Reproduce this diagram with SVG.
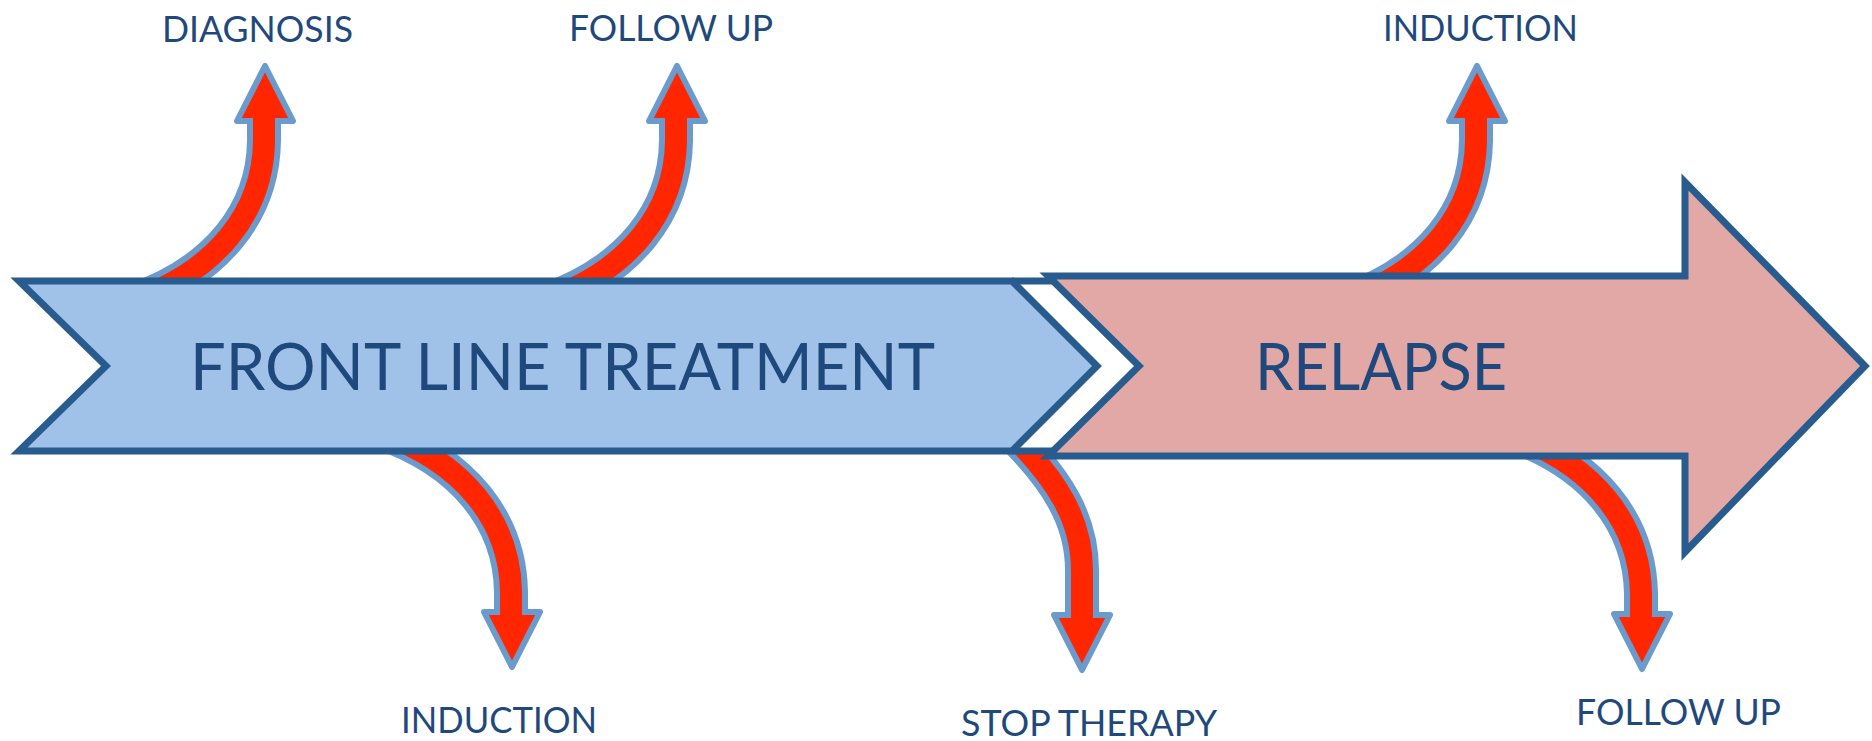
<svg xmlns="http://www.w3.org/2000/svg" xmlns:xlink="http://www.w3.org/1999/xlink" width="1872" height="741" viewBox="0 0 1872 741">
<style>
.edge{fill:none;stroke:#6A9BCC;stroke-width:34;stroke-linecap:butt}
.core{fill:none;stroke:#FF2600;stroke-width:22;stroke-linecap:butt}
.head{fill:#FF2600;stroke:#6A9BCC;stroke-width:6;stroke-linejoin:round}
.banner{stroke:#285C8F;stroke-width:7;stroke-linejoin:miter}
.big{font-family:Lato,"Liberation Sans",sans-serif;font-size:66px;fill:#1F497D}
.lbl{font-family:Lato,"Liberation Sans",sans-serif;font-size:37px;fill:#1F497D}
</style>
<defs>
<g id="arrowA">
<path class="edge" d="M-1,55 L-1,75 C-2,145 -47,205 -134,235"/>
<polygon class="head" points="-28,55 0,0 28,55"/>
<path class="core" d="M-1,49 L-1,75 C-2,145 -47,205 -134,235"/>
</g>
<g id="arrowB">
<path class="edge" d="M1,55 L1,100 C1,150 -24,190 -69,235"/>
<polygon class="head" points="-27,55 1,0 29,55"/>
<path class="core" d="M1,49 L1,100 C1,150 -24,190 -69,235"/>
</g>
<clipPath id="belowBanner"><rect x="0" y="449" width="1872" height="292"/></clipPath>
</defs>
<rect width="1872" height="741" fill="#FFFFFF"/>
<g id="connectors">
<use xlink:href="#arrowA" transform="translate(265,66)"/>
<use xlink:href="#arrowA" transform="translate(677,66)"/>
<use xlink:href="#arrowA" transform="translate(1477,66)"/>
<use xlink:href="#arrowA" transform="translate(512,667) scale(1,-1)"/>
<use xlink:href="#arrowA" transform="translate(1642,669) scale(1,-1)"/>
<g clip-path="url(#belowBanner)"><use xlink:href="#arrowB" transform="translate(1081,670) scale(1,-1)"/></g>
</g>
<g id="node-front-line">
<polygon class="banner" fill="#A0C2E8" points="19,281 1012,281 1097,366 1012,451 19,451 106,366"/>
<path d="M1012,281 H1060 M1012,451 H1060" stroke="#285C8F" stroke-width="7" fill="none"/>
<text class="big" x="190" y="390" textLength="745" lengthAdjust="spacingAndGlyphs">FRONT LINE TREATMENT</text>
</g>
<g id="node-relapse">
<polygon class="banner" fill="#E1A8A6" points="1048,276 1685,276 1685,182 1865,366 1685,552 1685,456 1048,456 1139,366"/>
<text class="big" x="1255" y="390" textLength="252" lengthAdjust="spacingAndGlyphs">RELAPSE</text>
</g>
<g id="label-diagnosis"><text class="lbl" x="162" y="42" textLength="191" lengthAdjust="spacingAndGlyphs">DIAGNOSIS</text></g>
<g id="label-follow-up-1"><text class="lbl" x="569" y="41" textLength="204" lengthAdjust="spacingAndGlyphs">FOLLOW UP</text></g>
<g id="label-induction-2"><text class="lbl" x="1383" y="41" textLength="195" lengthAdjust="spacingAndGlyphs">INDUCTION</text></g>
<g id="label-induction-1"><text class="lbl" x="401" y="733" textLength="196" lengthAdjust="spacingAndGlyphs">INDUCTION</text></g>
<g id="label-stop-therapy"><text class="lbl" x="961" y="736" textLength="256" lengthAdjust="spacingAndGlyphs">STOP THERAPY</text></g>
<g id="label-follow-up-2"><text class="lbl" x="1576" y="725" textLength="205" lengthAdjust="spacingAndGlyphs">FOLLOW UP</text></g>
</svg>
